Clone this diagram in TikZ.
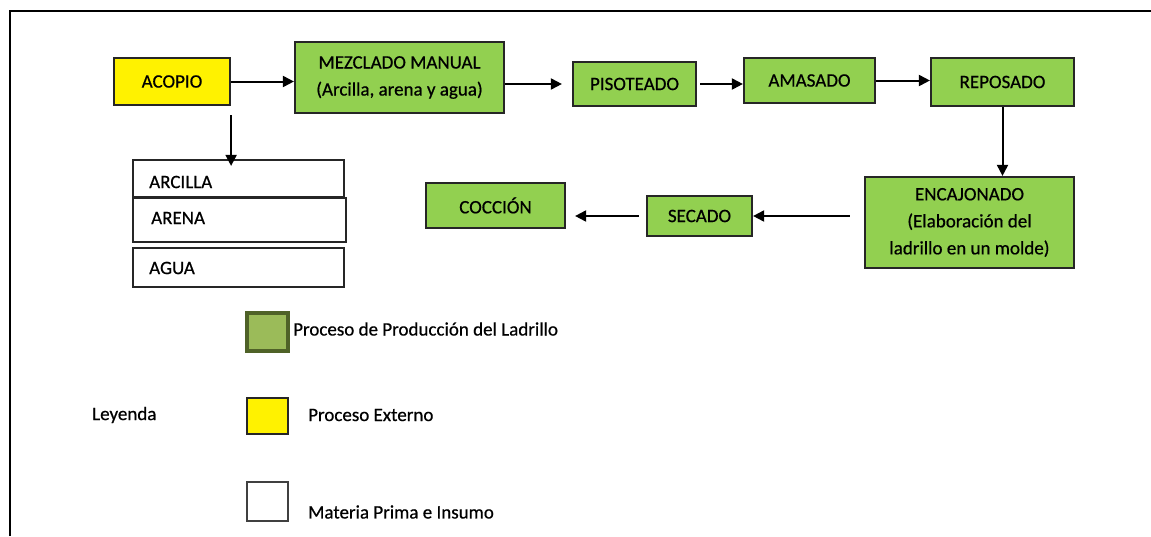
\documentclass[tikz,border=0pt]{standalone}
\usepackage{fontspec}
\setmainfont{Carlito}[FakeBold=0.6]
\usetikzlibrary{arrows.meta}
\definecolor{boxgreen}{HTML}{92D050}
\definecolor{leggreen}{HTML}{9BBB59}
\definecolor{legdark}{HTML}{4F6228}
\tikzset{
  proc/.style={draw=black!85, line width=2.2pt, fill=boxgreen, align=center, inner sep=0pt, font=\fontsize{19}{27}\selectfont},
  ext/.style={proc, fill=yellow},
  mat/.style={draw=black!85, line width=2.2pt, fill=white, inner sep=0pt},
  arr/.style={line width=2pt, -{Triangle[length=11pt,width=11pt]}},
  legtxt/.style={anchor=west, inner sep=0pt, font=\fontsize{19}{22}\selectfont}
}
\begin{document}
\begin{tikzpicture}[x=1pt,y=-1pt]
\useasboundingbox (0,0) rectangle (1151,536);
\draw[line width=2pt] (10,536) -- (10,11) -- (1151,11);

\node[ext, minimum width=116pt, minimum height=47pt] (acopio) at (172,81.5) {ACOPIO};
\node[proc, minimum width=209pt, minimum height=71pt] (mezclado) at (399.5,77.5) {MEZCLADO MANUAL\\(Arcilla, arena y agua)};
\node[proc, minimum width=123pt, minimum height=44pt] (pisoteado) at (634.5,84) {PISOTEADO};
\node[proc, minimum width=131pt, minimum height=45pt] (amasado) at (809.5,80.5) {AMASADO};
\node[proc, minimum width=143pt, minimum height=48pt] (reposado) at (1002.5,82) {REPOSADO};
\node[proc, minimum width=209pt, minimum height=91pt] (encajonado) at (969.5,222.5) {ENCAJONADO\\(Elaboración del\\ladrillo en un molde)};
\node[proc, minimum width=105pt, minimum height=40pt] (secado) at (699.5,216) {SECADO};
\node[proc, minimum width=139pt, minimum height=45pt] (coccion) at (495.5,205.5) {COCCIÓN};

\node[mat, minimum width=211pt, minimum height=37pt] (arcilla) at (238.5,178.5) {};
\node[mat, minimum width=213pt, minimum height=44pt] (arena) at (239.5,220) {};
\node[mat, minimum width=211pt, minimum height=39pt] (agua) at (238.5,267.5) {};
\node[legtxt] (tarcilla) at (149,182) {ARCILLA};
\node[legtxt] (tarena) at (151,218) {ARENA};
\node[legtxt] (tagua) at (149,268) {AGUA};

\draw[arr] (acopio.east) -- (acopio.east -| mezclado.west);
\draw[arr, shorten >=10pt] (mezclado.east |- pisoteado.west) -- (pisoteado.west);
\draw[arr, shorten <=3pt] (pisoteado.east) -- (pisoteado.east -| amasado.west);
\draw[arr] (amasado.east) -- (amasado.east -| reposado.west);
\draw[arr] (reposado.south) -- (reposado.south |- encajonado.north);
\draw[arr, shorten <=14pt] (encajonado.west |- secado.east) -- (secado.east);
\draw[arr, shorten <=7pt, shorten >=9pt] (secado.west) -- (secado.west -| coccion.east);
\draw[arr, shorten <=9pt, shorten >=-7pt] (acopio.south east) -- (acopio.south east |- arcilla.north);

\node[draw=legdark, line width=4.5pt, fill=leggreen, minimum width=41pt, minimum height=38pt, inner sep=0pt] (lgreen) at (267.5,332) {};
\node[draw=black!85, line width=2.2pt, fill=yellow, minimum width=41pt, minimum height=36pt, inner sep=0pt] (lyellow) at (267.5,416) {};
\node[draw=black!75, line width=2.2pt, fill=white, minimum width=41pt, minimum height=39pt, inner sep=0pt] (lwhite) at (267.5,501.5) {};
\node[legtxt] (t1) at (293,329) {Proceso de Producción del Ladrillo};
\node[legtxt] (t2) at (308,415) {Proceso Externo};
\node[legtxt] (t3) at (308,512) {Materia Prima e Insumo};
\node[legtxt] (tley) at (92,415) {Leyenda};
\end{tikzpicture}
\end{document}
